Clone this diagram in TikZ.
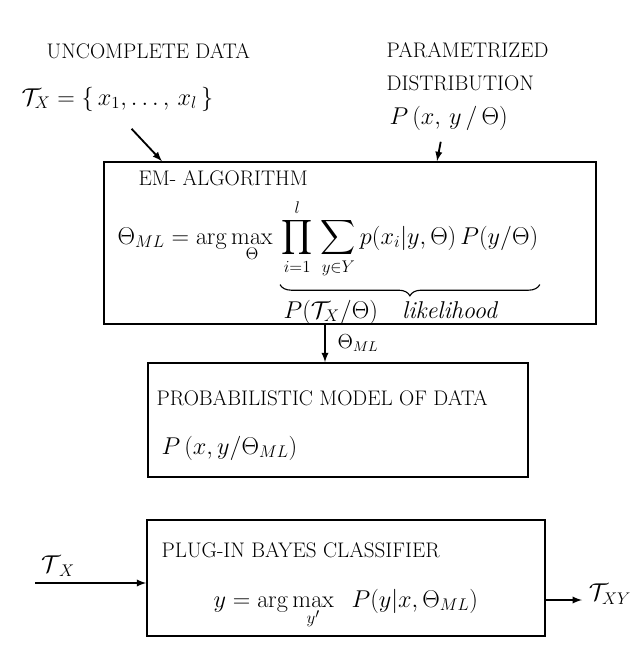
\documentclass[tikz,border=0pt]{standalone}
\usepackage{amsmath}
\usepackage{amssymb}
\usepackage{tikz}
\usetikzlibrary{decorations.pathreplacing}

\begin{document}
\begin{tikzpicture}[x=0.025cm, y=-0.025cm, >=latex, font=\fontsize{15}{18}\selectfont,
    blok/.style={draw, line width=1.1pt, inner sep=0pt},
    conn/.style={->, line width=1.3pt},
    txt/.style={anchor=base west, inner sep=1pt}]
          \useasboundingbox (0,0) rectangle (640,665);
          % vstupy
          \node[txt] (uncdata) at (45,58) {UNCOMPLETE DATA};
          \node[txt] (tx) at (20,105) {\LARGE $\mathcal{T}_X = \{\,x_1,\ldots,\,x_l\,\}$};
          \node[txt] (param) at (385,57) {PARAMETRIZED};
          \node[txt] (distr) at (385,90) {DISTRIBUTION};
          \node[txt] (pdist) at (388,124) {\LARGE $P\,(x,\,y\,/\,\Theta)$};
          % EM
          \node[blok, minimum width=12.3cm, minimum height=4.05cm] (em) at (350,243) {};
          \node[txt] (emtitle) at (137,185) {EM- ALGORITHM};
          \node[txt] (emlhs) at (116,244) {\LARGE $\Theta_{ML} = \arg\max\limits_{\Theta}$};
          \node[txt] (emprod) at (280,244)
            {\LARGE $\displaystyle \prod_{i=1}^{l}\,\sum_{y\in Y} p(x_i|y,\Theta)\,P(y/\Theta)$};
          \draw[thick, decorate, decoration={brace, mirror, amplitude=8pt}]
            ([yshift=-3pt]emprod.south west) -- ([yshift=-3pt]emprod.south east);
          \node[txt] (emlik) at (282,318) {\LARGE $P(\mathcal{T}_X/\Theta)$\quad\textit{likelihood}};
          \draw[conn] ([xshift=0.35cm, yshift=-0.4cm]tx.south) -- ([xshift=-4.7cm]em.north);
          \draw[conn] ([xshift=-0.2cm, yshift=-0.25cm]pdist.south) -- ([xshift=2.175cm]em.north);
          % model
          \node[blok, minimum width=9.5cm, minimum height=2.85cm] (model) at (338,420) {};
          \node[txt] (modtitle) at (155,405) {PROBABILISTIC MODEL OF DATA};
          \node[txt] (modform) at (160,454) {\LARGE $P\,(x,y/\Theta_{ML})$};
          \draw[conn] ([xshift=-0.625cm]em.south) -- ([xshift=-0.625cm]em.south |- model.north)
            node[midway, right=5pt] {\Large $\Theta_{ML}$};
          % klasifikator
          \node[blok, minimum width=9.95cm, minimum height=2.9cm] (bayes) at (346,578) {};
          \node[txt] (baytitle) at (160,557) {PLUG-IN BAYES CLASSIFIER};
          \node[txt] (bayform) at (212,607) {\LARGE $y = \arg\max\limits_{y'}\;\; P(y|x,\Theta_{ML})$};
          \coordinate (inp) at (35,583);
          \coordinate (outp) at (582,600);
          \node (txin) at (58,566) {\LARGE $\mathcal{T}_{\;X}$};
          \node (txyout) at (610,594) {\LARGE $\mathcal{T}_{XY}$};
          \draw[conn] (inp) -- (inp -| bayes.west);
          \draw[conn] (outp -| bayes.east) -- (outp);
        \end{tikzpicture}
\end{document}
